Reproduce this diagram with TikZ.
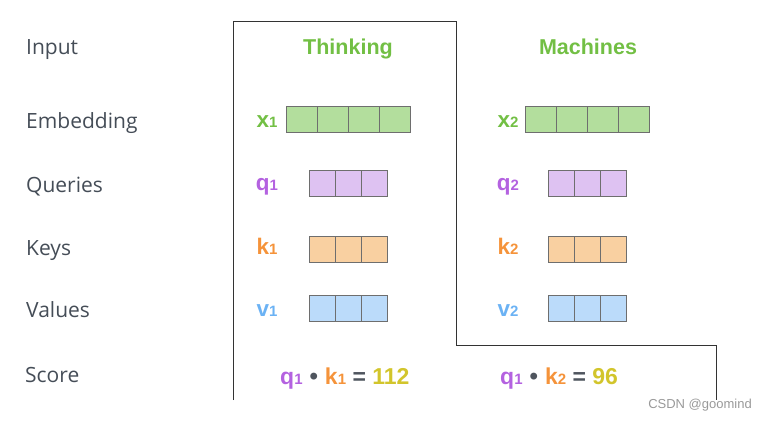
\documentclass[tikz,border=0pt]{standalone}
\usepackage{fontspec}
\setmainfont{Liberation Sans}
\newfontfamily\opensans{Open Sans}
\definecolor{lblgray}{HTML}{454D57}
\definecolor{tgreen}{HTML}{72BF44}
\definecolor{tpurple}{HTML}{B462E0}
\definecolor{torange}{HTML}{F5933A}
\definecolor{tblue}{HTML}{6BB2F4}
\definecolor{tyellow}{HTML}{D2C52C}
\definecolor{fgreen}{HTML}{B3DE9D}
\definecolor{fpurple}{HTML}{DEC2F2}
\definecolor{forange}{HTML}{F9D0A1}
\definecolor{fblue}{HTML}{BBDBFA}
\definecolor{cellline}{HTML}{6E6E6E}
\definecolor{opgray}{HTML}{4F555E}
\tikzset{
  rowlabel/.style={anchor=base west,inner sep=0pt,font=\opensans\fontsize{21}{21}\selectfont,text=lblgray},
  word/.style={anchor=base,inner sep=0pt,font=\bfseries\fontsize{21.5}{21.5}\selectfont,text=tgreen},
  vlabel/.style={anchor=base,inner sep=0pt,font=\bfseries\fontsize{22.5}{22.5}\selectfont},
  score/.style={anchor=base west,inner sep=0pt,font=\bfseries\fontsize{23}{23}\selectfont},
  cell/.style={draw=cellline,line width=0.8pt},
}
\newcommand{\sbs}[1]{{\fontsize{15}{15}\selectfont #1}}
\newcommand{\dotop}{\textcolor{opgray}{\raisebox{-0.5pt}{\fontsize{24}{24}\selectfont•}}}
\newcommand{\cellrow}[6]{% name, x, y, n, w, fill
  \foreach \i in {1,...,#4}{
    \fill[#6] ({#2+(\i-1)*#5},#3) rectangle ({#2+\i*#5},{#3+26.5});
  }
  \foreach \i in {1,...,#4}{
    \draw[cell] ({#2+(\i-1)*#5},#3) rectangle ({#2+\i*#5},{#3+26.5});
  }
  \coordinate (#1) at ({#2},{#3+13.25});
}
\begin{document}
\begin{tikzpicture}[x=1pt,y=-1pt]
\useasboundingbox (0,0) rectangle (762,420);
% outline
\draw[line width=1pt,black!80] (233,400) -- (233,22) -- (456,22) -- (456,345) -- (716,345) -- (716,400);
% row labels
\node[rowlabel] (lin) at (26,55) {Input};
\node[rowlabel] (lemb) at (26,128) {Embedding};
\node[rowlabel] (lq) at (26,192) {Queries};
\node[rowlabel] (lk) at (26,255) {Keys};
\node[rowlabel] (lv) at (26,317) {Values};
\node[rowlabel] (ls) at (25,382) {Score};
% words
\node[word] (w1) at (348,55) {Thinking};
\node[word] (w2) at (588,55) {Machines};
% vectors
\cellrow{ex1}{286}{106}{4}{31}{fgreen}
\cellrow{ex2}{525}{106}{4}{31}{fgreen}
\cellrow{eq1}{309}{170}{3}{26}{fpurple}
\cellrow{eq2}{548}{170}{3}{26}{fpurple}
\cellrow{ek1}{309}{236}{3}{26}{forange}
\cellrow{ek2}{548}{236}{3}{26}{forange}
\cellrow{ev1}{309}{295}{3}{26}{fblue}
\cellrow{ev2}{548}{295}{3}{26}{fblue}
% vector labels
\node[vlabel,text=tgreen] (x1) at (267,127) {x\sbs{1}};
\node[vlabel,text=tgreen] (x2) at (508,127) {x\sbs{2}};
\node[vlabel,text=tpurple] (q1) at (267,190) {q\sbs{1}};
\node[vlabel,text=tpurple] (q2) at (508,190) {q\sbs{2}};
\node[vlabel,text=torange] (k1) at (267,254) {k\sbs{1}};
\node[vlabel,text=torange] (k2) at (508,254) {k\sbs{2}};
\node[vlabel,text=tblue] (v1) at (267,316) {v\sbs{1}};
\node[vlabel,text=tblue] (v2) at (508,316) {v\sbs{2}};
% scores
\node[score] (s1) at (280,384) {\textcolor{tpurple}{q\sbs{1}}\kern7pt\dotop\kern7pt\textcolor{torange}{k\sbs{1}} \textcolor{opgray}{=} \textcolor{tyellow}{112}};
\node[score] (s2) at (500,384) {\textcolor{tpurple}{q\sbs{1}}\kern7pt\dotop\kern7pt\textcolor{torange}{k\sbs{2}} \textcolor{opgray}{=} \textcolor{tyellow}{96}};
% watermark
\node[anchor=east,inner sep=0pt,font=\fontsize{13}{13}\selectfont,text=black!40] (wm) at (752,405) {CSDN @goomind};
\end{tikzpicture}
\end{document}
